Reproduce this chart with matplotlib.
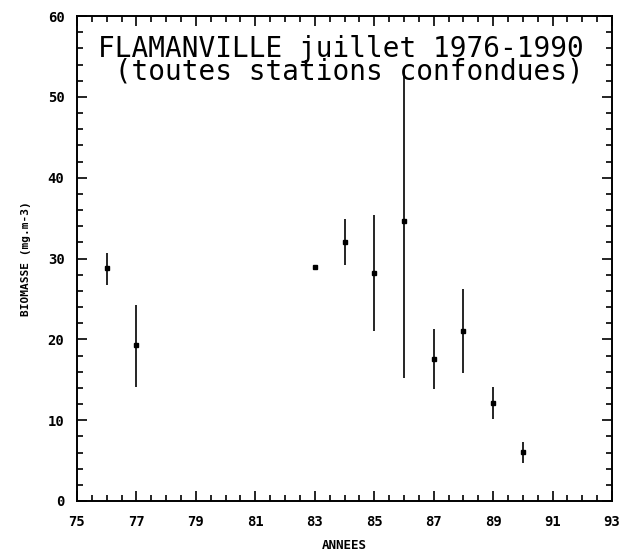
import numpy as np
import matplotlib
matplotlib.use("Agg")
import matplotlib.pyplot as plt
from matplotlib.ticker import MultipleLocator

# biomasse moyenne de juillet, toutes stations
annees = [76, 77, 83, 84, 85, 86, 87, 88, 89, 90]
biomasse = [28.8, 19.3, 29.0, 32.0, 28.2, 34.7, 17.6, 21.0, 12.1, 6.1]
borne_haute = [30.7, 24.3, 29.0, 34.9, 35.4, 53.6, 21.3, 26.2, 14.1, 7.3]
borne_basse = [26.7, 14.1, 29.0, 29.2, 21.0, 15.2, 13.9, 15.8, 10.1, 4.7]

xticks = [75, 77, 79, 81, 83, 85, 87, 89, 91, 93]
yticks = [0, 10, 20, 30, 40, 50, 60]

mono = "DejaVu Sans Mono"

fig = plt.figure(figsize=(6.28, 5.55), dpi=100)
ax = fig.add_axes([0.1226, 0.0973, 0.852, 0.8737])

b = np.array(biomasse)
err = [b - np.array(borne_basse), np.array(borne_haute) - b]
ax.errorbar(annees, biomasse, yerr=err, fmt="s", color="black",
            markersize=3.5, elinewidth=1.2, capsize=0)

ax.set_xlim(75, 93)
ax.set_ylim(0, 60)
ax.set_xticks(xticks)
ax.set_yticks(yticks)
ax.xaxis.set_minor_locator(MultipleLocator(0.5))
ax.yaxis.set_minor_locator(MultipleLocator(2))
ax.tick_params(which="both", direction="in", top=True, right=True,
               labelsize=10, width=1.2, color="black")
ax.tick_params(which="major", length=7)
ax.tick_params(which="minor", length=4)
ax.tick_params(axis="x", pad=10)
ax.tick_params(axis="y", pad=9)
for lab in ax.get_xticklabels() + ax.get_yticklabels():
    lab.set_family(mono)
    lab.set_fontweight("bold")
for sp in ax.spines.values():
    sp.set_linewidth(1.4)

ax.text(0.04, 0.96, "FLAMANVILLE juillet 1976-1990\n (toutes stations confondues)",
        transform=ax.transAxes, family=mono, fontsize=20, va="top",
        ha="left", linespacing=0.75)

ax.set_ylabel("BIOMASSE (mg.m-3)", family=mono, fontsize=8,
              fontweight="bold", labelpad=12)
ax.set_xlabel("ANNEES", family=mono, fontsize=9, fontweight="bold",
              labelpad=7)

fig.savefig("out.png", dpi=100)
